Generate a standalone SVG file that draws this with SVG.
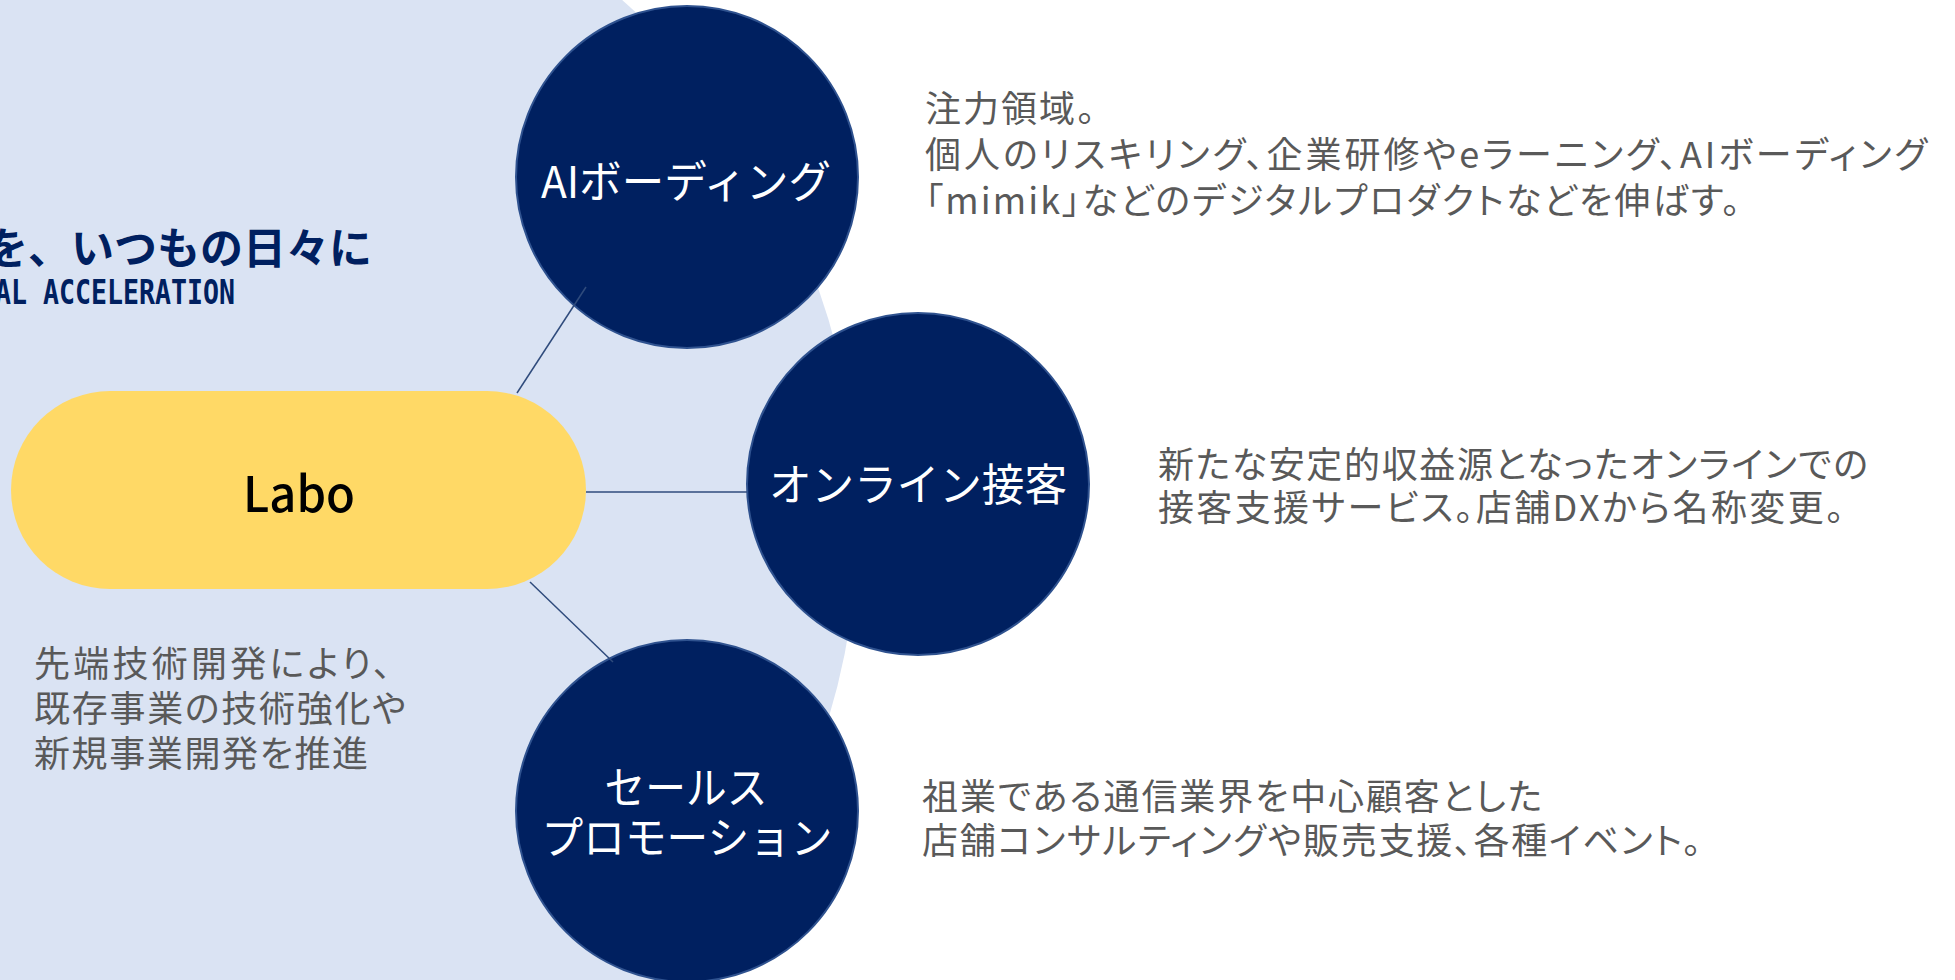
<svg xmlns="http://www.w3.org/2000/svg" width="1955" height="980" viewBox="0 0 1955 980">
<style>
.bg{fill:#DAE3F3}
.node{fill:#002060;stroke:#2F528F;stroke-width:2}
.pill{fill:#FFD966}
.lbl{font-family:"Noto Sans CJK JP","Noto Sans",sans-serif;font-size:44px;fill:#FFFFFF;text-anchor:middle}
.desc{font-family:"Noto Sans CJK JP","Noto Sans",sans-serif;font-size:36px;fill:#595959;font-feature-settings:"palt"}
.title{font-family:"Noto Sans CJK JP",sans-serif;font-size:43px;font-weight:700;fill:#002060}
.sub{font-family:"DejaVu Sans Mono",monospace;font-size:34px;font-weight:700;fill:#002060}
.conn{stroke:#2F4B7C;stroke-width:1.5;fill:none}
</style>
<rect width="1955" height="980" fill="#FFFFFF"/>
<circle class="bg" cx="169" cy="519" r="689"/>
<text class="title" x="-15" y="264">を、いつもの日々に</text>
<text class="sub" x="-5" y="304" textLength="240" lengthAdjust="spacingAndGlyphs">AL ACCELERATION</text>
<g id="labo">
<rect class="pill" x="11" y="391" width="575" height="198" rx="99" ry="99"/>
<text x="299" y="512" font-family="'Noto Sans CJK JP','Noto Sans',sans-serif" font-size="49" font-weight="500" fill="#000000" text-anchor="middle" textLength="112" lengthAdjust="spacingAndGlyphs">Labo</text>
</g>
<g id="labo-desc">
<text class="desc" x="34" y="677" textLength="357">先端技術開発により、</text>
<text class="desc" x="34" y="722" textLength="372">既存事業の技術強化や</text>
<text class="desc" x="34" y="767" textLength="334">新規事業開発を推進</text>
</g>
<g id="ai">
<circle class="node" cx="687" cy="177" r="171"/>
<text class="lbl" x="686" y="198" textLength="290" lengthAdjust="spacingAndGlyphs">AIボーディング</text>
</g>
<g id="online">
<circle class="node" cx="918" cy="484" r="171"/>
<text class="lbl" x="918" y="501" textLength="298" lengthAdjust="spacingAndGlyphs">オンライン接客</text>
</g>
<g id="sales">
<circle class="node" cx="687" cy="811" r="171"/>
<text class="lbl" x="686" y="804" textLength="163" lengthAdjust="spacingAndGlyphs">セールス</text>
<text class="lbl" x="687" y="854" textLength="291" lengthAdjust="spacingAndGlyphs">プロモーション</text>
</g>
<g id="ai-desc">
<text class="desc" x="925" y="122" textLength="170">注力領域。</text>
<text class="desc" x="925" y="168" textLength="1002">個人のリスキリング、企業研修やeラーニング、AIボーディング</text>
<text class="desc" x="925" y="214" textLength="815">「mimik」などのデジタルプロダクトなどを伸ばす。</text>
</g>
<g id="online-desc">
<text class="desc" x="1158" y="478" textLength="710">新たな安定的収益源となったオンラインでの</text>
<text class="desc" x="1158" y="521" textLength="686">接客支援サービス。店舗DXから名称変更。</text>
</g>
<g id="sales-desc">
<text class="desc" x="922" y="810" textLength="620">祖業である通信業界を中心顧客とした</text>
<text class="desc" x="922" y="854" textLength="779">店舗コンサルティングや販売支援、各種イベント。</text>
</g>
<g id="connectors">
<line class="conn" x1="517" y1="393" x2="586" y2="287"/>
<line class="conn" x1="586" y1="492" x2="747" y2="492"/>
<line class="conn" x1="530" y1="582" x2="613" y2="662"/>
</g>
</svg>
